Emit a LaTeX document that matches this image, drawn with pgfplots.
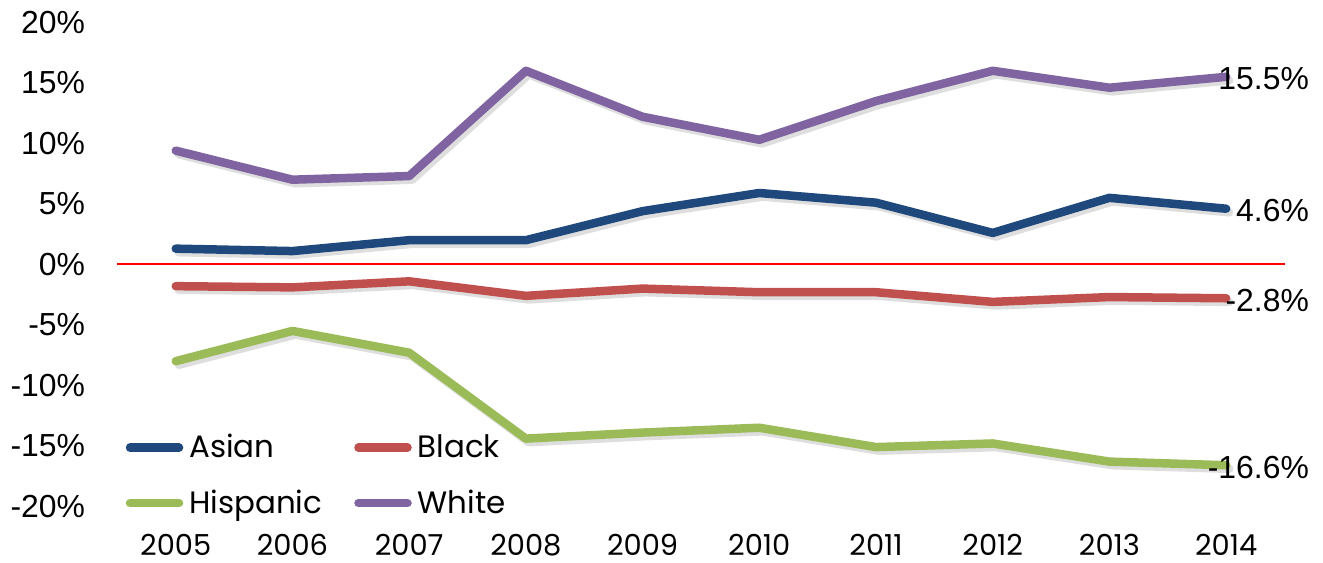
\documentclass[border=0pt]{standalone}
\usepackage{pgfplots}
\usepackage{pgfplotstable}
\pgfplotsset{compat=1.18}
\usepackage{fontspec}
\setmainfont{Liberation Sans}
\newfontfamily\poppins{Poppins}
\definecolor{cAsian}{HTML}{1F497D}
\definecolor{cBlack}{HTML}{C0504D}
\definecolor{cHisp}{HTML}{9BBB59}
\definecolor{cWhite}{HTML}{8064A2}
\pgfplotstableread{
year asian black hisp white
2005 1.3 -1.8 -8.0 9.4
2006 1.1 -1.9 -5.5 7.0
2007 2.0 -1.4 -7.3 7.3
2008 2.0 -2.6 -14.4 16.0
2009 4.4 -2.0 -13.9 12.2
2010 5.9 -2.3 -13.5 10.3
2011 5.1 -2.3 -15.1 13.5
2012 2.6 -3.1 -14.8 16.0
2013 5.5 -2.7 -16.3 14.6
2014 4.6 -2.8 -16.6 15.5
}\data
\tikzset{lbl/.style={pos=1, anchor=east, inner sep=0pt, xshift=43.5bp, yshift=-1bp, text=black, font=\fontsize{16}{19}\selectfont}}
\pgfplotsset{shadowline/.style={black, opacity=0.13, forget plot, xshift=1.5bp, yshift=-1.8bp}}
\begin{document}
\begin{tikzpicture}
\begin{axis}[
  scale only axis, width=583.55bp, height=242bp,
  xmin=2004.5, xmax=2014.5, ymin=-20, ymax=20,
  axis line style={draw=none}, major tick length=0pt,
  clip=false,
  xtick={2005,2006,2007,2008,2009,2010,2011,2012,2013,2014},
  xticklabels={2005,2006,2007,2008,2009,2010,2011,2012,2013,2014},
  ytick={-20,-15,-10,-5,0,5,10,15,20},
  yticklabels={-20\%,-15\%,-10\%,-5\%,0\%,5\%,10\%,15\%,20\%},
  yticklabel style={anchor=east, inner sep=0pt, xshift=-16bp, font=\fontsize{16}{19}\selectfont},
  xticklabel style={anchor=north, inner sep=0pt, yshift=-13.5bp, font=\poppins\fontsize{14.5}{17}\selectfont},
  legend columns=2,
  legend cell align=left,
  legend style={draw=none, fill=none, at={(rel axis cs:0,0)}, anchor=south west,
    xshift=4bp, yshift=-5.2bp, inner sep=0pt, nodes={inner sep=0pt},
    font=\poppins\fontsize{15.5}{18}\selectfont, row sep=14.5bp,
    /tikz/every odd column/.append style={column sep=3bp},
    /tikz/every even column/.append style={column sep=16bp}},
  legend image code/.code={\draw[#1] (0bp,0bp) -- (24.5bp,0bp);},
  every axis plot/.append style={line width=4.25bp, line cap=round, line join=round},
]
\coordinate (sw) at (rel axis cs:0,0);
\coordinate (ne) at (rel axis cs:1,1);
\addplot[red, line width=1bp, line cap=butt, forget plot] coordinates {(2004.5,0) (2014.5,0)};
\addplot[shadowline] table[x=year, y=asian] {\data};
\addplot[color=cAsian] table[x=year, y=asian] {\data} node[lbl] {4.6\%};
\addlegendentry{Asian}
\addplot[shadowline] table[x=year, y=black] {\data};
\addplot[color=cBlack] table[x=year, y=black] {\data} node[lbl] {-2.8\%};
\addlegendentry{Black}
\addplot[shadowline] table[x=year, y=hisp] {\data};
\addplot[color=cHisp] table[x=year, y=hisp] {\data} node[lbl] {-16.6\%};
\addlegendentry{Hispanic}
\addplot[shadowline] table[x=year, y=white] {\data};
\addplot[color=cWhite] table[x=year, y=white] {\data} node[lbl] {15.5\%};
\addlegendentry{White}
\end{axis}
\pgfresetboundingbox
\path[use as bounding box] ([xshift=-58.7bp,yshift=-28.3bp]sw) rectangle ([xshift=19.25bp,yshift=11.2bp]ne);
\end{tikzpicture}
\end{document}
